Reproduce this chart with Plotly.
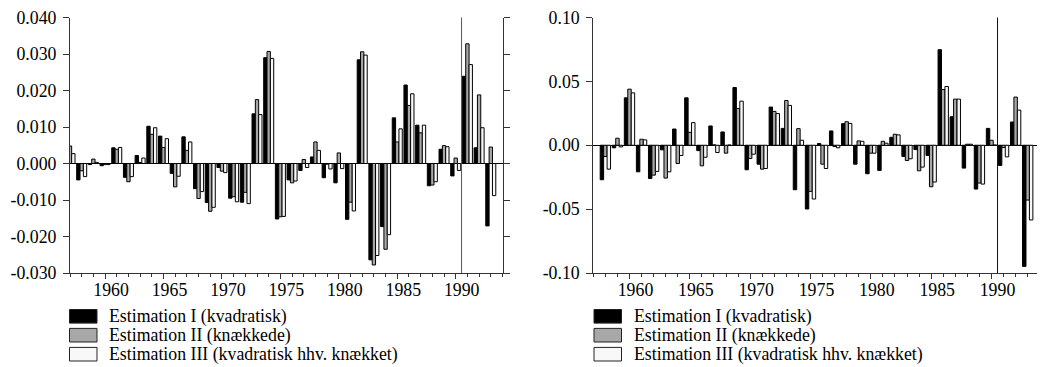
import plotly.graph_objects as go

years = list(range(1957, 1994))

series_names = [
    "Estimation I (kvadratisk)",
    "Estimation II (knækkede)",
    "Estimation III (kvadratisk hhv. knækket)",
]

left_I = [None, -0.0045, -0.0003, -0.0006, 0.0043, -0.0038, 0.0022, 0.0102, 0.0075, -0.0027,
          0.0073, -0.0069, -0.0107, -0.0011, -0.0095, -0.0106, 0.0136, 0.0290, -0.0152, -0.0045,
          -0.0019, 0.0018, -0.0039, -0.0053, -0.0153, 0.0284, -0.0264, -0.0173, 0.0125, 0.0215,
          0.0105, -0.0061, 0.0039, -0.0034, 0.0239, 0.0043, -0.0171]
left_II = [0.0048, -0.0020, 0.0012, -0.0003, 0.0039, -0.0050, 0.0003, 0.0080, 0.0044, -0.0064,
           0.0036, -0.0096, -0.0131, -0.0021, -0.0091, -0.0079, 0.0175, 0.0307, -0.0146, -0.0053,
           0.0011, 0.0059, -0.0002, 0.0029, -0.0106, 0.0306, -0.0278, -0.0235, 0.0059, 0.0159,
           0.0084, -0.0059, 0.0049, 0.0015, 0.0328, 0.0188, 0.0045]
left_III = [0.0027, -0.0036, 0.0003, -0.0003, 0.0044, -0.0036, 0.0015, 0.0098, 0.0068, -0.0035,
            0.0059, -0.0077, -0.0120, -0.0025, -0.0105, -0.0110, 0.0134, 0.0288, -0.0145, -0.0048,
            -0.0011, 0.0036, -0.0015, -0.0014, -0.0130, 0.0297, -0.0252, -0.0195, 0.0095, 0.0191,
            0.0105, -0.0050, 0.0046, -0.0019, 0.0271, 0.0098, -0.0088]

right_I = [None, -0.0270, -0.0020, 0.0371, -0.0208, -0.0260, -0.0036, 0.0127, 0.0371, -0.0042,
           0.0151, 0.0104, 0.0452, -0.0192, -0.0148, 0.0299, 0.0132, -0.0348, -0.0499, 0.0013,
           0.0112, 0.0169, -0.0148, -0.0223, -0.0197, 0.0062, -0.0088, -0.0034, -0.0080, 0.0748,
           0.0223, -0.0179, -0.0343, 0.0132, -0.0158, 0.0182, -0.0948]
right_II = [None, -0.0088, 0.0055, 0.0439, 0.0047, -0.0234, -0.0257, -0.0143, 0.0101, -0.0161,
            0.0003, -0.0062, 0.0288, -0.0104, -0.0187, 0.0265, 0.0350, 0.0130, -0.0361, -0.0148,
            -0.0010, 0.0184, 0.0034, -0.0062, 0.0031, 0.0086, -0.0119, -0.0200, -0.0325, 0.0436,
            0.0361, 0.0008, -0.0296, 0.0039, -0.0018, 0.0377, -0.0429]
right_III = [None, -0.0187, -0.0013, 0.0410, 0.0042, -0.0205, -0.0208, -0.0080, 0.0177, -0.0094,
             -0.0057, 0.0002, 0.0345, -0.0070, -0.0182, 0.0248, 0.0312, 0.0039, -0.0421, -0.0182,
             -0.0020, 0.0171, 0.0031, -0.0062, 0.0016, 0.0081, -0.0106, -0.0171, -0.0288, 0.0460,
             0.0361, 0.0008, -0.0304, 0.0002, -0.0091, 0.0275, -0.0585]

x_tickvals = [1960, 1965, 1970, 1975, 1980, 1985, 1990]
x_ticktext = ["1960", "1965", "1970", "1975", "1980", "1985", "1990"]

left_yvals = [-0.03, -0.02, -0.01, 0.0, 0.01, 0.02, 0.03, 0.04]
left_ytext = ["-0.030", "-0.020", "-0.010", "0.000", "0.010", "0.020", "0.030", "0.040"]
right_yvals = [-0.10, -0.05, 0.0, 0.05, 0.10]
right_ytext = ["-0.10", "-0.05", "0.00", "0.05", "0.10"]

split_year = 1990.5

fills = ["#000000", "#a8a8a8", "#f8f8f8"]

FONT = "Liberation Serif"
FS = 17.8
OFF = 8            # the page body has an 8px margin
W, H = 1045 - OFF, 367 - OFF


def fx(px):
    return (px - OFF) / W


def fy(py):
    return 1 - (py - OFF) / H


fig = go.Figure()
panels = [
    ("x", "y", [left_I, left_II, left_III]),
    ("x2", "y2", [right_I, right_II, right_III]),
]
for xa, ya, data in panels:
    for name, vals, col in zip(series_names, data, fills):
        fig.add_trace(go.Bar(
            x=years, y=vals, name=name, xaxis=xa, yaxis=ya,
            marker=dict(color=col, line=dict(color="black", width=1)),
            showlegend=False,
        ))

axis_line = "#333333"
common_x = dict(
    range=[1957, 1994.02], tickmode="array", tickvals=x_tickvals, ticktext=x_ticktext,
    ticks="outside", ticklen=5, tickcolor=axis_line, showline=True, linecolor=axis_line,
    linewidth=1, showgrid=False, zeroline=False, ticklabelshift=6, ticklabelstandoff=-4,
    minor=dict(dtick=1, tick0=1957, ticks="outside", ticklen=3, tickcolor=axis_line),
    tickfont=dict(family=FONT, size=FS, color="black"),
)
common_y = dict(
    tickmode="array", ticks="outside", ticklen=6, tickcolor=axis_line, showline=True,
    linecolor=axis_line, linewidth=1, mirror="ticks", showgrid=False, zeroline=True,
    zerolinecolor="black", zerolinewidth=1, ticklabeloverflow="allow",
    ticklabelstandoff=3,
    tickfont=dict(family=FONT, size=FS, color="black"),
)
ydom = [fy(273), fy(17.5)]

fig.update_layout(
    width=W, height=H, template="none",
    margin=dict(l=0, r=0, t=0, b=0, pad=0),
    paper_bgcolor="white", plot_bgcolor="white",
    barmode="group", bargap=0.143, bargroupgap=0,
    font=dict(family=FONT, size=FS, color="black"),
    xaxis=dict(domain=[fx(70), fx(502.7)], anchor="y", **common_x),
    xaxis2=dict(domain=[fx(593.3), fx(1040)], anchor="y2", **common_x),
    yaxis=dict(domain=ydom, anchor="x", range=[-0.030, 0.040],
               tickvals=left_yvals, ticktext=left_ytext, **common_y),
    yaxis2=dict(domain=ydom, anchor="x2", range=[-0.10, 0.10],
                tickvals=right_yvals, ticktext=right_ytext, **common_y),
)

# vertical separator line at the end of the estimation period
fig.add_shape(type="line", xref="x", yref="y domain", x0=split_year, x1=split_year,
              y0=0, y1=1, line=dict(color="#555555", width=1))
fig.add_shape(type="line", xref="x2", yref="y2 domain", x0=split_year, x1=split_year,
              y0=0, y1=1, line=dict(color="#111111", width=1))

# legends below each panel
legend_x = [69.5, 594]
row_centers = [316.3, 335.2, 354.2]
for lx in legend_x:
    for name, col, cy in zip(series_names, fills, row_centers):
        fig.add_shape(type="rect", xref="paper", yref="paper",
                      x0=fx(lx), x1=fx(lx + 27.5),
                      y0=fy(cy + 6.8), y1=fy(cy - 6.8),
                      fillcolor=col, line=dict(color="#222222", width=1))
        fig.add_annotation(text=name, xref="paper", yref="paper",
                           x=fx(lx + 37.5), y=fy(cy),
                           xanchor="left", yanchor="middle", showarrow=False,
                           font=dict(family=FONT, size=FS, color="black"))

fig.write_html("out.html")
